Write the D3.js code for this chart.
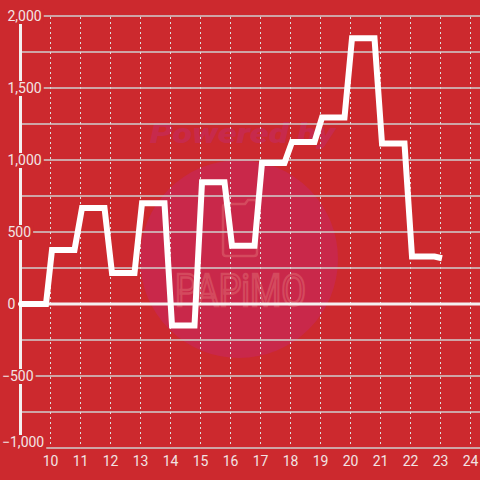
<!DOCTYPE html>
<html>
<head>
<meta charset="utf-8">
<script src="https://cdn.jsdelivr.net/npm/d3@7"></script>
<style>
  html, body { margin: 0; padding: 0; background: #cc292e; }
  text { font-family: Roboto, "Liberation Sans", sans-serif; }
</style>
</head>
<body>
<svg width="480" height="480"></svg>
<script>
// time of day (hours) and value at each point of the line
const times = [8.95, 9.85, 10.05, 10.8, 11.05, 11.8, 12.05, 12.8, 13.05, 13.8, 14.05, 14.8,
  15.05, 15.8, 16.05, 16.8, 17.05, 17.8, 18.05, 18.8, 19.05, 19.8, 20.05, 20.8, 21.05, 21.8,
  22.05, 22.8, 23.05];
const values = [0, 0, 375, 375, 667, 667, 215, 215, 700, 700, -150, -150,
  845, 845, 405, 405, 980, 980, 1125, 1125, 1295, 1295, 1845, 1845, 1115, 1115,
  330, 330, 318];
const xTicks = [10, 11, 12, 13, 14, 15, 16, 17, 18, 19, 20, 21, 22, 23, 24];
const yGrid = [-1000, -750, -500, -250, 0, 250, 500, 750, 1000, 1250, 1500, 1750, 2000];
const yLabels = [-1000, -500, 0, 500, 1000, 1500, 2000];

const bg = "#cc292e";
const svg = d3.select("svg");
svg.append("rect").attr("width", 480).attr("height", 480).attr("fill", bg);

const x = d3.scaleLinear().domain([10, 24]).range([50.5, 470.5]);
const y = d3.scaleLinear().domain([-1000, 2000]).range([448, 16]);

// watermark
const wm = svg.append("g");
wm.append("circle").attr("cx", 239).attr("cy", 259).attr("r", 99).attr("fill", "#c9284a");
wm.append("text")
  .attr("x", 150).attr("y", 143)
  .attr("textLength", 185).attr("lengthAdjust", "spacingAndGlyphs")
  .attr("font-size", 28).attr("font-weight", "900").attr("font-style", "italic")
  .attr("fill", "#c72a4c")
  .text("Powered by");
wm.append("path")
  .attr("d", "M225,204 h20 l3,-4 h6 q3,0 3,3 v50 q0,3 -3,3 h-28 q-3,0 -3,-3 v-46 q0,-3 3,-3 Z")
  .attr("fill", "none").attr("stroke", "#d44a5e").attr("stroke-width", 2.5);
wm.append("text")
  .attr("x", 175).attr("y", 306)
  .attr("textLength", 131).attr("lengthAdjust", "spacingAndGlyphs")
  .attr("font-size", 44)
  .attr("fill", "none").attr("stroke", "#d44a5e").attr("stroke-width", 2.5)
  .text("PAPiMO");

// horizontal grid
svg.append("g").selectAll("line")
  .data(yGrid.filter(d => d !== 0))
  .join("line")
  .attr("x1", 20).attr("x2", 480)
  .attr("y1", d => y(d)).attr("y2", d => y(d))
  .attr("stroke", "#cfcfcf").attr("stroke-width", 1.5);

// vertical dashed grid
svg.append("g").selectAll("line")
  .data(xTicks)
  .join("line")
  .attr("x1", d => x(d)).attr("x2", d => x(d))
  .attr("y1", 17).attr("y2", 447)
  .attr("stroke", "#dddddd").attr("stroke-width", 1)
  .attr("stroke-dasharray", "2,3");

// y axis line
svg.append("line")
  .attr("x1", 20.5).attr("x2", 20.5).attr("y1", 24).attr("y2", 448)
  .attr("stroke", "#f4f0f0").attr("stroke-width", 3);

// zero line
svg.append("line")
  .attr("x1", 18).attr("x2", 480).attr("y1", y(0)).attr("y2", y(0))
  .attr("stroke", "#f4f0f0").attr("stroke-width", 3);

// y labels with a background patch
const fmt = d3.format(",");
const labY = d => Math.min(y(d) + 5, 447);
const lab = svg.append("g").selectAll("g").data(yLabels).join("g");
lab.append("text")
  .attr("x", d => d < 0 ? 2 : 7.5)
  .attr("y", labY)
  .attr("font-size", 14)
  .attr("fill", "#f2e4e4")
  .text(d => fmt(d));
lab.each(function(d) {
  const t = d3.select(this).select("text");
  const w = t.node().getComputedTextLength();
  const x0 = d < 0 ? 2 : 7.5;
  d3.select(this).insert("rect", "text")
    .attr("x", 0).attr("y", labY(d) - 12)
    .attr("width", x0 + w + 2).attr("height", 15)
    .attr("fill", bg);
});

// x labels
svg.append("g").selectAll("text")
  .data(xTicks)
  .join("text")
  .attr("x", d => x(d)).attr("y", 466)
  .attr("text-anchor", "middle")
  .attr("font-size", 14)
  .attr("fill", "#f2e4e4")
  .text(d => d);

// data line
const line = d3.line().x(d => x(d[0])).y(d => y(d[1]));
svg.append("path")
  .datum(times.map((t, i) => [t, values[i]]))
  .attr("d", line)
  .attr("fill", "none")
  .attr("stroke", "#ffffff")
  .attr("stroke-width", 6)
  .attr("stroke-linejoin", "miter");
</script>
</body>
</html>
